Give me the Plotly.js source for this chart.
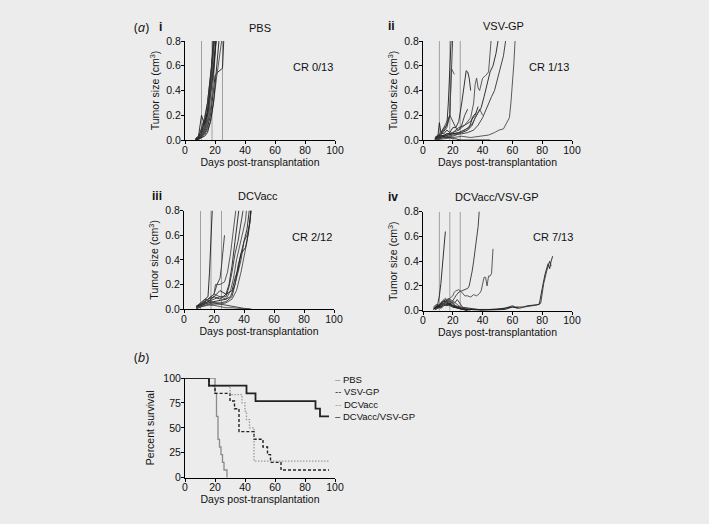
<!DOCTYPE html>
<html>
<head>
<meta charset="utf-8">
<script src="https://cdn.plot.ly/plotly-3.0.1.min.js"></script>
<style>html,body{margin:0;padding:0;background:#ececec;}#chart{width:709px;height:524px;}</style>
</head>
<body>
<div id="chart"></div>
<script>
// ---------- DATA ----------
var treatmentDays = [11, 18, 25];
var xTicks = [0, 20, 40, 60, 80, 100];
var yTicksTumor = [0, 0.2, 0.4, 0.6, 0.8];
var yTicksSurv = [0, 25, 50, 75, 100];

// Panel i: PBS (days, tumor size cm3), one array per mouse
var pbsDays = [
  [7,9,11,13,15,17,18,19],
  [7,9,11,13,15,17,19,20],
  [7,9,11,13,15,17,19,21],
  [7,9,11,13,15,17,19,20],
  [7,9,11,13,15,17,18,20],
  [7,9,11,13,15,17,19,21],
  [7,9,11,13,15,17,19,20,22,25,26],
  [7,9,11,13,15,17,19,21],
  [7,9,11,13,15,17,19,21,23,25],
  [7,9,11,13,15,17,19,21],
  [8,10,12,14,16,18,19],
  [8,10,12,14,16,18,20],
  [7,9,11,13,15,17,19,21,23]
];
var pbsSize = [
  [0.01,0.03,0.2,0.12,0.2,0.45,0.65,0.85],
  [0,0.02,0.05,0.1,0.22,0.45,0.7,0.85],
  [0,0.01,0.04,0.08,0.15,0.35,0.6,0.85],
  [0.01,0.02,0.06,0.15,0.3,0.5,0.75,0.9],
  [0,0.02,0.1,0.18,0.3,0.5,0.62,0.9],
  [0,0.01,0.03,0.06,0.12,0.25,0.5,0.85],
  [0,0.01,0.03,0.05,0.1,0.2,0.4,0.52,0.55,0.58,0.85],
  [0,0.02,0.05,0.12,0.25,0.4,0.6,0.85],
  [0,0.01,0.02,0.04,0.08,0.15,0.3,0.5,0.68,0.85],
  [0.01,0.03,0.08,0.15,0.22,0.38,0.55,0.85],
  [0,0.02,0.05,0.12,0.3,0.6,0.85],
  [0,0.01,0.04,0.1,0.2,0.5,0.85],
  [0,0.01,0.02,0.03,0.06,0.15,0.3,0.55,0.85]
];

// Panel ii: VSV-GP
var vsvDays = [
  [8,10,12,14,16,17,18,19],
  [8,10,12,14,16,18,19,20],
  [8,10,12,14,16,18,19,20,21],
  [8,10,11,12,14,16,18,20,22,24,26,28,29,30,31,32],
  [8,10,12,14,16,18,20,22,24,26,28,30],
  [8,12,16,20,24,28,30,32,34,35,36,37,38,40,42,44,45,46],
  [8,14,20,26,30,33,35,37,39,41,43,45,47,49,51],
  [8,14,20,26,30,34,37,40,43,46,48,50,52,54,56],
  [8,14,20,26,32,38,44,48,51,54,56,58,59,60,61,62],
  [8,12,16,20,24,28,31,33,35,37],
  [8,12,16,20,24,28,32,34,36],
  [8,14,20,26,30,33,36,38,40],
  [8,10,12,14,16,18,20,22,25,30,35,40,45]
];
var vsvSize = [
  [0.01,0.03,0.05,0.08,0.12,0.3,0.6,0.85],
  [0,0.02,0.04,0.07,0.1,0.2,0.5,0.85],
  [0.01,0.02,0.05,0.1,0.15,0.2,0.58,0.55,0.53],
  [0.01,0.03,0.14,0.06,0.05,0.08,0.06,0.1,0.1,0.15,0.3,0.5,0.56,0.55,0.5,0.4],
  [0.02,0.04,0.06,0.1,0.12,0.2,0.15,0.1,0.08,0.12,0.2,0.25],
  [0.01,0.03,0.05,0.06,0.08,0.12,0.15,0.18,0.3,0.45,0.5,0.42,0.4,0.5,0.52,0.55,0.7,0.85],
  [0.01,0.03,0.05,0.06,0.08,0.12,0.18,0.22,0.26,0.35,0.45,0.55,0.6,0.7,0.85],
  [0,0.02,0.04,0.05,0.06,0.08,0.12,0.18,0.27,0.35,0.4,0.5,0.58,0.68,0.85],
  [0,0.01,0.02,0.03,0.02,0.03,0.04,0.06,0.08,0.09,0.13,0.18,0.3,0.45,0.62,0.85],
  [0.01,0.02,0.05,0.05,0.06,0.08,0.1,0.17,0.2,0.27],
  [0.01,0.03,0.04,0.06,0.1,0.12,0.15,0.2,0.22],
  [0,0.02,0.03,0.06,0.1,0.13,0.2,0.25,0.2],
  [0.02,0.03,0.04,0.03,0.02,0.02,0.01,0.01,0,0,0,0,0]
];

// Panel iii: DCVacc
var dcDays = [
  [8,10,12,14,16,17,18,19],
  [8,10,12,14,16,18,20,22,24,25,26,27],
  [8,10,12,14,16,18,20,21,24,27,29,31,33,35],
  [8,12,16,20,24,28,30,32,34,36,37],
  [8,12,16,20,24,28,30,32,34,36,38,40],
  [8,12,16,20,24,28,31,33,35,37,39,41,42],
  [8,12,16,20,24,28,31,34,36,38,40,42,44],
  [8,12,16,20,24,28,32,34,36,38,40,42,44,45],
  [8,12,16,20,24,28,32,35,38,40,42,44,45],
  [8,12,16,20,24,28,32,34,36,38,41,43,45],
  [8,10,12,14,16,18,20,24,28,32,36,40,44],
  [8,10,12,14,16,18,20,24,28,32,36,40,45]
];
var dcSize = [
  [0.01,0.03,0.05,0.08,0.1,0.3,0.6,0.85],
  [0.01,0.02,0.04,0.06,0.08,0.1,0.12,0.2,0.25,0.35,0.5,0.6],
  [0.01,0.02,0.04,0.06,0.08,0.1,0.12,0.2,0.2,0.22,0.3,0.45,0.65,0.85],
  [0.01,0.04,0.08,0.1,0.08,0.12,0.2,0.35,0.55,0.72,0.85],
  [0.01,0.03,0.06,0.08,0.1,0.1,0.18,0.3,0.45,0.55,0.7,0.85],
  [0.02,0.05,0.08,0.12,0.1,0.08,0.15,0.25,0.4,0.5,0.6,0.72,0.85],
  [0.01,0.03,0.05,0.06,0.07,0.08,0.1,0.2,0.35,0.45,0.55,0.65,0.85],
  [0,0.02,0.04,0.05,0.05,0.06,0.1,0.2,0.3,0.4,0.55,0.6,0.7,0.85],
  [0.01,0.02,0.03,0.04,0.04,0.05,0.08,0.15,0.3,0.42,0.55,0.72,0.85],
  [0.02,0.04,0.06,0.1,0.15,0.12,0.15,0.25,0.32,0.45,0.5,0.62,0.85],
  [0.02,0.04,0.06,0.08,0.07,0.06,0.05,0.04,0.03,0.02,0.01,0.005,0],
  [0.01,0.02,0.04,0.05,0.04,0.03,0.03,0.02,0.01,0.01,0.005,0.002,0]
];

// Panel iv: DCVacc/VSV-GP
var comboDays = [
  [7,8,9,10,11,12,13,14,15],
  [8,10,12,14,16,18,20,22,24,26,28,30,31,32,33,34,35,36,37,38],
  [8,10,12,14,16,18,20,21,22,24,26,28,30,32,34,36,38,39,40,41,42,43,44,45,46,47],
  [8,10,12,14,16,18,20,25,30,35,40,45,50,55,60,65,70,75,78,80,82,84,85,86,87],
  [8,10,12,14,16,18,20,25,30,35,40,45,50,55,60,62,68,72,76,79,81,83,85,86],
  [7,9,11,13,15,17,19,21,23,25,28,32],
  [7,9,11,13,15,17,19,21,24,27,30],
  [7,9,11,13,15,17,19,21,23,25,27,30],
  [8,10,12,14,16,18,20,22,24,26,28,32,36,40],
  [8,10,12,14,16,18,20,24,28,34,40,45,50,55,60,64],
  [7,9,11,13,15,17,19,21,23,25],
  [8,10,12,14,16,18,20,22,24,26],
  [8,10,12,14,16,18,20,23,26,30]
];
var comboSize = [
  [0.01,0.02,0.03,0.06,0.12,0.22,0.35,0.5,0.64],
  [0.01,0.03,0.05,0.08,0.06,0.05,0.08,0.12,0.15,0.16,0.17,0.18,0.2,0.25,0.32,0.4,0.5,0.58,0.68,0.85],
  [0.01,0.02,0.04,0.06,0.08,0.1,0.12,0.15,0.16,0.17,0.15,0.12,0.12,0.11,0.13,0.12,0.14,0.16,0.22,0.27,0.27,0.2,0.28,0.28,0.3,0.5],
  [0.02,0.04,0.06,0.08,0.06,0.05,0.04,0.03,0.02,0.01,0.005,0.005,0.005,0.01,0.03,0.02,0.04,0.05,0.05,0.18,0.3,0.38,0.34,0.4,0.44],
  [0.01,0.03,0.05,0.06,0.05,0.04,0.03,0.02,0.01,0.005,0.005,0.01,0.02,0.02,0.04,0.03,0.03,0.035,0.045,0.06,0.22,0.32,0.4,0.36],
  [0.02,0.04,0.05,0.08,0.1,0.08,0.06,0.05,0.03,0.02,0.01,0],
  [0.01,0.03,0.04,0.06,0.09,0.07,0.05,0.03,0.02,0.01,0],
  [0.03,0.05,0.04,0.05,0.07,0.1,0.07,0.06,0.09,0.05,0.02,0.01],
  [0.01,0.02,0.03,0.05,0.06,0.08,0.06,0.04,0.03,0.02,0.02,0.01,0.01,0],
  [0.02,0.03,0.02,0.04,0.05,0.06,0.04,0.02,0.01,0.01,0.005,0.005,0.01,0.02,0.03,0.02],
  [0.02,0.03,0.05,0.07,0.08,0.06,0.05,0.04,0.03,0.02],
  [0.01,0.02,0.04,0.06,0.07,0.09,0.08,0.06,0.04,0.02],
  [0.02,0.04,0.03,0.05,0.04,0.05,0.03,0.02,0.01,0]
];

// Panel b: Kaplan-Meier survival (%)
var survGroups = ["PBS", "VSV-GP", "DCVacc", "DCVacc/VSV-GP"];
var survPbsDays = [0,20,21,22,23,24,25,26,28];
var survPbsPct  = [100,84.6,61.5,38.5,30.8,23.1,15.4,7.7,0];
var survVsvDays = [0,16,20,30,33,36,46,52,55,57,64,96];
var survVsvPct  = [100,92.3,84.6,76.9,69.2,46.2,38.5,30.8,23.1,15.4,7.7,7.7];
var survDcDays  = [0,20,30,38,40,41,43,46,96];
var survDcPct   = [100,91.7,83.3,75,66.7,58.3,50,16.7,16.7];
var survComboDays = [0,16,41,47,87,90,96];
var survComboPct  = [100,92.3,84.6,76.9,69.2,61.5,61.5];

// ---------- RENDER ----------
var W = 709, H = 524;
var FONT = "Liberation Sans, Arial, sans-serif";
function px(x){ return x / W; }
function py(y){ return 1 - y / H; }

var traces = [];
var lineCols = ["#1e1e1e", "#333333", "#4a4a4a"];
function addMice(daysArr, sizeArr, xa, ya){
  for (var i = 0; i < daysArr.length; i++){
    traces.push({x: daysArr[i], y: sizeArr[i], xaxis: xa, yaxis: ya, type: "scatter", mode: "lines",
      line: {color: lineCols[i % 3], width: 0.9}, showlegend: false, hoverinfo: "skip"});
  }
}
function addTreatment(xa, ya){
  for (var i = 0; i < treatmentDays.length; i++){
    traces.push({x: [treatmentDays[i], treatmentDays[i]], y: [0, 0.8], xaxis: xa, yaxis: ya, type: "scatter", mode: "lines",
      line: {color: "#a0a0a0", width: 1}, showlegend: false, hoverinfo: "skip"});
  }
}
addTreatment("x", "y");  addMice(pbsDays, pbsSize, "x", "y");
addTreatment("x2", "y2"); addMice(vsvDays, vsvSize, "x2", "y2");
addTreatment("x3", "y3"); addMice(dcDays, dcSize, "x3", "y3");
addTreatment("x4", "y4"); addMice(comboDays, comboSize, "x4", "y4");

var survDays = [survPbsDays, survVsvDays, survDcDays, survComboDays];
var survPct = [survPbsPct, survVsvPct, survDcPct, survComboPct];
var survStyle = [
  {color: "#8a8a8a", width: 1.3, dash: "solid"},
  {color: "#222222", width: 1.4, dash: "3px,2px"},
  {color: "#9a9a9a", width: 1.3, dash: "1.5px,1.5px"},
  {color: "#222222", width: 1.8, dash: "solid"}
];
for (var g = 0; g < survGroups.length; g++){
  traces.push({x: survDays[g], y: survPct[g], name: survGroups[g], xaxis: "x5", yaxis: "y5", type: "scatter", mode: "lines",
    line: {shape: "hv", color: survStyle[g].color, width: survStyle[g].width, dash: survStyle[g].dash}, showlegend: false});
}

function xAxis(domain, anchor){
  return {domain: domain, anchor: anchor, range: [0, 100], tickvals: xTicks, showgrid: false, zeroline: false,
    showline: true, linecolor: "#000", linewidth: 1, ticks: "outside", ticklen: 3, tickcolor: "#000",
    ticklabelstandoff: -3,
    tickfont: {family: FONT, size: 10.5, color: "#111"},
    title: {text: "Days post-transplantation", font: {family: FONT, size: 10.5, color: "#111"}, standoff: 0}};
}
function yAxisT(domain, anchor){
  return {domain: domain, anchor: anchor, range: [0, 0.8], tickvals: yTicksTumor, tickformat: ".1f", showgrid: false, zeroline: false,
    showline: true, linecolor: "#000", linewidth: 1, ticks: "outside", ticklen: 3, tickcolor: "#000",
    ticklabelstandoff: -2,
    tickfont: {family: FONT, size: 10.5, color: "#111"},
    title: {text: "Tumor size (cm<sup>3</sup>)", font: {family: FONT, size: 10.5, color: "#111"}, standoff: 4}};
}

var dxL = [px(185), px(335)], dxR = [px(423), px(572)];
var layout = {
  width: W, height: H, margin: {l: 0, r: 0, t: 0, b: 0},
  paper_bgcolor: "#ececec", plot_bgcolor: "#ececec",
  showlegend: false,
  xaxis: xAxis(dxL, "y"), yaxis: yAxisT([py(140), py(41)], "x"),
  xaxis2: xAxis(dxR, "y2"), yaxis2: yAxisT([py(140), py(41)], "x2"),
  xaxis3: xAxis([px(184), px(334)], "y3"), yaxis3: yAxisT([py(309), py(210.7)], "x3"),
  xaxis4: xAxis(dxR, "y4"), yaxis4: yAxisT([py(310.7), py(211.7)], "x4"),
  xaxis5: xAxis(dxL, "y5"),
  yaxis5: {domain: [py(477.7), py(378)], anchor: "x5", range: [0, 100], tickvals: yTicksSurv, showgrid: false, zeroline: false,
    showline: true, linecolor: "#000", linewidth: 1, ticks: "outside", ticklen: 3, tickcolor: "#000",
    ticklabelstandoff: -2,
    tickfont: {family: FONT, size: 10.5, color: "#111"},
    title: {text: "Percent survival", font: {family: FONT, size: 10.5, color: "#111"}, standoff: 6}},
  annotations: []
};

function ann(text, x, y, size, opts){
  var a = {text: text, xref: "paper", yref: "paper", x: px(x), y: py(y), showarrow: false,
    xanchor: "center", yanchor: "middle", font: {family: FONT, size: size, color: "#111"}};
  if (opts) for (var k in opts) a[k] = opts[k];
  layout.annotations.push(a);
}
var capFont = {family: "Open Sans, Noto Sans, sans-serif", size: 13, color: "#111"};
ann("(<i>a</i>)", 141, 27, 13, {font: capFont});
ann("<b>i</b>", 160, 27, 12);
ann("PBS", 260, 28, 11);
ann("CR 0/13", 313, 67, 11);
ann("<b>ii</b>", 391, 26, 12);
ann("VSV-GP", 503, 26, 11);
ann("CR 1/13", 549, 67, 11);
ann("<b>iii</b>", 157, 196, 12);
ann("DCVacc", 258, 196, 11);
ann("CR 2/12", 312, 237, 11);
ann("<b>iv</b>", 393, 197, 12);
ann("DCVacc/VSV-GP", 497, 197, 11);
ann("CR 7/13", 553, 237, 11);
ann("(<i>b</i>)", 141, 357, 13, {font: capFont});

// legend for panel b (one multi-line text block)
var legMarks = ["–", "--", "--", "–"];
var legLines = [];
for (var g = 0; g < survGroups.length; g++){
  legLines.push('<span style="color:' + survStyle[g].color + '">' + legMarks[g] + '</span><span style="color:#111"> ' + survGroups[g] + '</span>');
}
ann(legLines.join("<br>"), 333, 372, 9.5, {xanchor: "left", yanchor: "top", align: "left"});

Plotly.newPlot("chart", traces, layout, {staticPlot: true, displayModeBar: false});
</script>
</body>
</html>
